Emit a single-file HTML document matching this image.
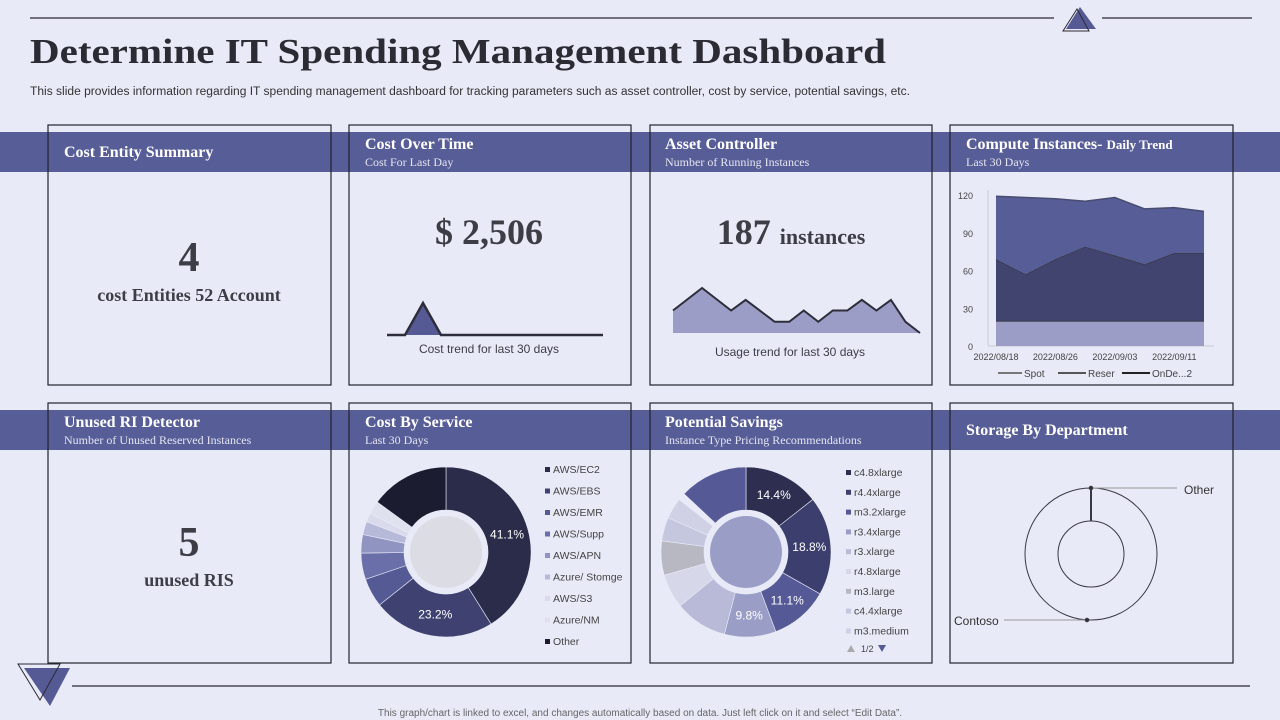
<!DOCTYPE html>
<html><head><meta charset="utf-8"><style>
html,body{margin:0;padding:0;background:#e8eaf7;}
svg{display:block;font-family:"Liberation Sans",sans-serif;}
.serif{font-family:"Liberation Serif",serif;}
</style></head><body>
<svg id="s" width="1280" height="720" viewBox="0 0 1280 720" xmlns="http://www.w3.org/2000/svg">
<rect width="1280" height="720" fill="#e8eaf7"/>
<line x1="30" y1="18" x2="1054" y2="18" stroke="#2a2a35" stroke-width="1.3"/>
<line x1="1102" y1="18" x2="1252" y2="18" stroke="#2a2a35" stroke-width="1.3"/>
<polygon points="1080,7 1096,29 1066,29" fill="#555a95"/>
<polygon points="1077,9 1089,31 1063,31" fill="none" stroke="#2a2a35"/>
<text x="30" y="63" class="serif" font-size="35" font-weight="bold" fill="#2b2b33" textLength="856" lengthAdjust="spacingAndGlyphs">Determine IT Spending Management Dashboard</text>
<text x="30" y="95" font-size="11.5" fill="#333" textLength="880" lengthAdjust="spacingAndGlyphs">This slide provides information regarding IT spending management dashboard for tracking parameters such as asset controller, cost by service, potential savings, etc.</text>

<rect x="0" y="132" width="1280" height="40" fill="#575d96"/>
<rect x="0" y="410" width="1280" height="40" fill="#575d96"/>

<g fill="none" stroke="#22222c" stroke-width="1.2">
<rect x="48" y="125" width="283" height="260"/>
<rect x="349" y="125" width="282" height="260"/>
<rect x="650" y="125" width="282" height="260"/>
<rect x="950" y="125" width="283" height="260"/>
<rect x="48" y="403" width="283" height="260"/>
<rect x="349" y="403" width="282" height="260"/>
<rect x="650" y="403" width="282" height="260"/>
<rect x="950" y="403" width="283" height="260"/>
</g>

<g class="serif" fill="#fff" font-weight="bold" font-size="16">
<text x="64" y="157">Cost Entity Summary</text>
<text x="365" y="149">Cost Over Time</text>
<text x="665" y="149">Asset Controller</text>
<text x="966" y="149">Compute Instances- <tspan font-size="13">Daily Trend</tspan></text>
<text x="64" y="427">Unused RI Detector</text>
<text x="365" y="427">Cost By Service</text>
<text x="665" y="427">Potential Savings</text>
<text x="966" y="435">Storage By Department</text>
</g>
<g class="serif" fill="#e4e5f3" font-size="12">
<text x="365" y="166">Cost For Last Day</text>
<text x="665" y="166">Number of Running Instances</text>
<text x="966" y="166">Last 30 Days</text>
<text x="64" y="444">Number of Unused Reserved Instances</text>
<text x="365" y="444">Last 30 Days</text>
<text x="665" y="444">Instance Type Pricing Recommendations</text>
</g>

<g class="serif" fill="#3d3d46" font-weight="bold" text-anchor="middle">
<text x="189" y="271" font-size="42">4</text>
<text x="189" y="301" font-size="18">cost Entities 52 Account</text>
<text x="489" y="244" font-size="36">$ 2,506</text>
<text x="791" y="244" font-size="36">187 <tspan font-size="22">instances</tspan></text>
<text x="189" y="556" font-size="42">5</text>
<text x="189" y="586" font-size="18">unused RIS</text>
</g>
<text x="489" y="353" font-size="12" fill="#3d3d46" text-anchor="middle">Cost trend for last 30 days</text>
<text x="790" y="356" font-size="12" fill="#3d3d46" text-anchor="middle">Usage trend for last 30 days</text>

<g id="costTrend"></g>
<g id="usageTrend"></g>
<g id="compute"></g>
<g id="service"></g>
<g id="savings"></g>

<g fill="none" stroke="#3a3a44" stroke-width="1">
<circle cx="1091" cy="554" r="66"/>
<circle cx="1091" cy="554" r="33"/>
<line x1="1091" y1="488" x2="1091" y2="521" stroke-width="2"/>
<line x1="1093" y1="488" x2="1177" y2="488" stroke="#999"/>
<line x1="1004" y1="620" x2="1086" y2="620" stroke="#999"/>
<circle cx="1091" cy="488" r="1.8" fill="#333"/>
<circle cx="1087" cy="620" r="1.8" fill="#333"/>
</g>
<text x="1184" y="494" font-size="12" fill="#333">Other</text>
<text x="954" y="625" font-size="12" fill="#333">Contoso</text>

<line x1="72" y1="686" x2="1250" y2="686" stroke="#2a2a35" stroke-width="1.3"/>
<polygon points="24,668 70,668 50,706" fill="#555a95"/>
<polygon points="18,664 60,664 40,700" fill="none" stroke="#2a2a35"/>
<text x="640" y="716" font-size="10" fill="#666" text-anchor="middle">This graph/chart is linked to excel, and changes automatically based on data. Just left click on it and select “Edit Data”.</text>
</svg>
<script>
const NS="http://www.w3.org/2000/svg";
// Cost trend data
const costDays=[1,2,3,4,5,6,7,8,9,10,11,12,13];
const costValues=[0,0,32,0,0,0,0,0,0,0,0,0,0];
// Usage trend data
const usageValues=[70,105,140,105,70,103,69,35,35,70,35,70,70,103,70,103,35,0];
// Compute instances data
const computeDates=["2022/08/18","","2022/08/26","","2022/09/03","","2022/09/11",""];
const spotValues=[20,20,20,20,20,20,20,20];
const reserValues=[49,37,49,59,52,45,54,54];
const onDemandValues=[50,61,48,36,46,44,36,33];
const computeTicks=[0,30,60,90,120];
// Cost by service
const serviceNames=["AWS/EC2","AWS/EBS","AWS/EMR","AWS/Supp","AWS/APN","Azure/ Stomge","AWS/S3","Azure/NM","Other"];
const serviceShares=[41.1,23.2,5.5,5,3.5,2.5,1.7,2.5,15];
const serviceLabels=["41.1%","23.2%","","","","","","",""];
// Potential savings
const savingsNames=["c4.8xlarge","r4.4xlarge","m3.2xlarge","r3.4xlarge","r3.xlarge","r4.8xlarge","m3.large","c4.4xlarge","m3.medium"];
const savingsShares=[14.4,18.8,11.1,9.8,10,6.5,6.5,4.5,4,1.4,13];
const savingsLabels=["14.4%","18.8%","11.1%","9.8%","","","","","","",""];

function el(tag,attrs,parent){const e=document.createElementNS(NS,tag);for(const k in attrs)e.setAttribute(k,attrs[k]);parent.appendChild(e);return e;}

// cost trend
(function(){
  const g=document.getElementById('costTrend');
  const x0=387,x1=603,base=335,sy=1;
  const xs=i=>x0+i*(x1-x0)/(costValues.length-1);
  let d="M"+xs(0)+","+base;
  costValues.forEach((v,i)=>{d+=" L"+xs(i)+","+(base-v*sy);});
  d+=" L"+xs(costValues.length-1)+","+base+" Z";
  const a=el('path',{d:d,fill:'#555a95'},g);
  
  
  const l=el('polyline',{points:costValues.map((v,i)=>xs(i)+","+(base-v*sy)).join(" "),fill:'none',stroke:'#2e2e3a','stroke-width':2.5},g);
  
  
})();

// usage trend
(function(){
  const g=document.getElementById('usageTrend');
  const x0=673,x1=920,base=333,sy=45/140;
  const xs=i=>x0+i*(x1-x0)/(usageValues.length-1);
  const pts=usageValues.map((v,i)=>xs(i)+","+(base-v*sy));
  const a=el('path',{d:"M"+x0+","+base+" L"+pts.join(" L")+" L"+x1+","+base+" Z",fill:'#9b9dc6'},g);
  
  
  const l=el('polyline',{points:pts.join(" "),fill:'none',stroke:'#2e2e3a','stroke-width':2},g);
  
  
})();

// compute area chart
(function(){
  const g=document.getElementById('compute');
  const x0=996,x1=1204,y0=346,y120=195;
  const xs=i=>x0+i*(x1-x0)/(spotValues.length-1);
  const ys=v=>y0-(v/120)*(y0-y120);
  el('line',{x1:x0-8,y1:y0,x2:x1+10,y2:y0,stroke:'#ccc'},g);
  el('line',{x1:x0-8,y1:y120-5,x2:x0-8,y2:y0,stroke:'#ccc'},g);
  computeTicks.forEach(t=>{
    const tx=el('text',{x:973-(t==0?0:0),y:ys(t)+4,'font-size':9,fill:'#444','text-anchor':'end'},g);
    tx.setAttribute('x',973);
    tx.textContent=t;
    
    
  });
  const cum1=spotValues, cum2=spotValues.map((v,i)=>v+reserValues[i]), cum3=cum2.map((v,i)=>v+onDemandValues[i]);
  function band(lo,hi,fill,name,stroke){
    let d="M"+hi.map((v,i)=>xs(i)+","+ys(v)).join(" L");
    for(let i=lo.length-1;i>=0;i--)d+=" L"+xs(i)+","+ys(lo[i]);
    const p=el('path',{d:d+" Z",fill:fill},g);
    
    
    el('polyline',{points:hi.map((v,i)=>xs(i)+","+ys(v)).join(" "),fill:'none',stroke:stroke,'stroke-width':1.5},g);
  }
  const zeros=spotValues.map(()=>0);
  band(zeros,cum1,'#9b9dc6','area-spot','#333');
  band(cum1,cum2,'#41446f','area-reserved','#333a');
  band(cum2,cum3,'#575d96','area-ondemand','#4a4b70');
  computeDates.forEach((d,i)=>{ if(!d)return;
    const t=el('text',{x:xs(i),y:360,'font-size':9,fill:'#444','text-anchor':'middle'},g);
    t.textContent=d;
    
    
  });
  const leg=[["Spot",998,1022,'#777'],["Reser",1058,1086,'#555'],["OnDe...2",1122,1150,'#222']];
  leg.forEach(l=>{
    el('line',{x1:l[1],y1:373,x2:l[2],y2:373,stroke:l[3],'stroke-width':2},g);
    const t=el('text',{x:l[2]+2,y:377,'font-size':10,fill:'#444'},g);
    t.textContent=l[0];
    
    
  });
})();

function donut(id,cx,cy,R,r,shares,colors,labels,centerFill,gaps){
  const g=document.getElementById(id);
  const tot=shares.reduce((a,b)=>a+b,0);
  let a0=-Math.PI/2;
  shares.forEach((s,i)=>{
    const a1=a0+s/tot*2*Math.PI;
    const large=(a1-a0)>Math.PI?1:0;
    const P=(rad,a)=>(cx+rad*Math.cos(a)).toFixed(2)+","+(cy+rad*Math.sin(a)).toFixed(2);
    const d="M"+P(R,a0)+" A"+R+","+R+" 0 "+large+" 1 "+P(R,a1)+" L"+P(r,a1)+" A"+r+","+r+" 0 "+large+" 0 "+P(r,a0)+" Z";
    const p=el('path',{d:d,fill:colors[i],stroke:'#e8eaf7','stroke-width':0.6},g);
    
    
    if(labels[i]){
      const am=(a0+a1)/2,rm=(R+r)/2;
      const t=el('text',{x:cx+rm*Math.cos(am),y:cy+rm*Math.sin(am)+4,'font-size':12,fill:'#fff','text-anchor':'middle'},g);
      t.textContent=labels[i];
      
      
    }
    a0=a1;
  });
  el('circle',{cx:cx,cy:cy,r:r,fill:'#e8eaf7'},g);
  const c=el('circle',{cx:cx,cy:cy,r:r-6,fill:centerFill},g);
  
  
}
const serviceColors=["#2b2c4a","#3f4271","#555a95","#6a6fa9","#9094c0","#b7b9d9","#d9daeb","#e0e1ee","#1c1c30"];
donut('service',446,552,85,42,serviceShares,serviceColors,serviceLabels,'#dcdce4');
const savingsColors=["#2d2e50","#3c3f6e","#555a96","#9a9dc6","#b8bad8","#d6d7e8","#b7b8c2","#c5c7de","#d0d1e4","#e8eaf7","#555a96"];
donut('savings',746,552,85,42,savingsShares,savingsColors,savingsLabels,'#9a9dc6');

function legend(id,names,colors,x,y0,step){
  const g=document.getElementById(id);
  names.forEach((n,i)=>{
    const y=y0+i*step;
    el('rect',{x:x,y:y-6,width:5,height:5,fill:colors[i]},g);
    const t=el('text',{x:x+8,y:y,'font-size':10.5,fill:'#444'},g);
    t.textContent=n;
    
    
  });
}
legend('service',serviceNames,serviceColors,545,473,21.5);
legend('savings',savingsNames,savingsColors,846,476,19.8);
(function(){
  const g=document.getElementById('savings');
  el('polygon',{points:"847,652 851,645 855,652",fill:'#aaa'},g);
  const t=el('text',{x:861,y:652,'font-size':9,fill:'#444'},g);t.textContent="1/2";
  
  
  const b=el('polygon',{points:"878,645 886,645 882,652",fill:'#555a95'},g);
  
  
})();
</script>
</body></html>
